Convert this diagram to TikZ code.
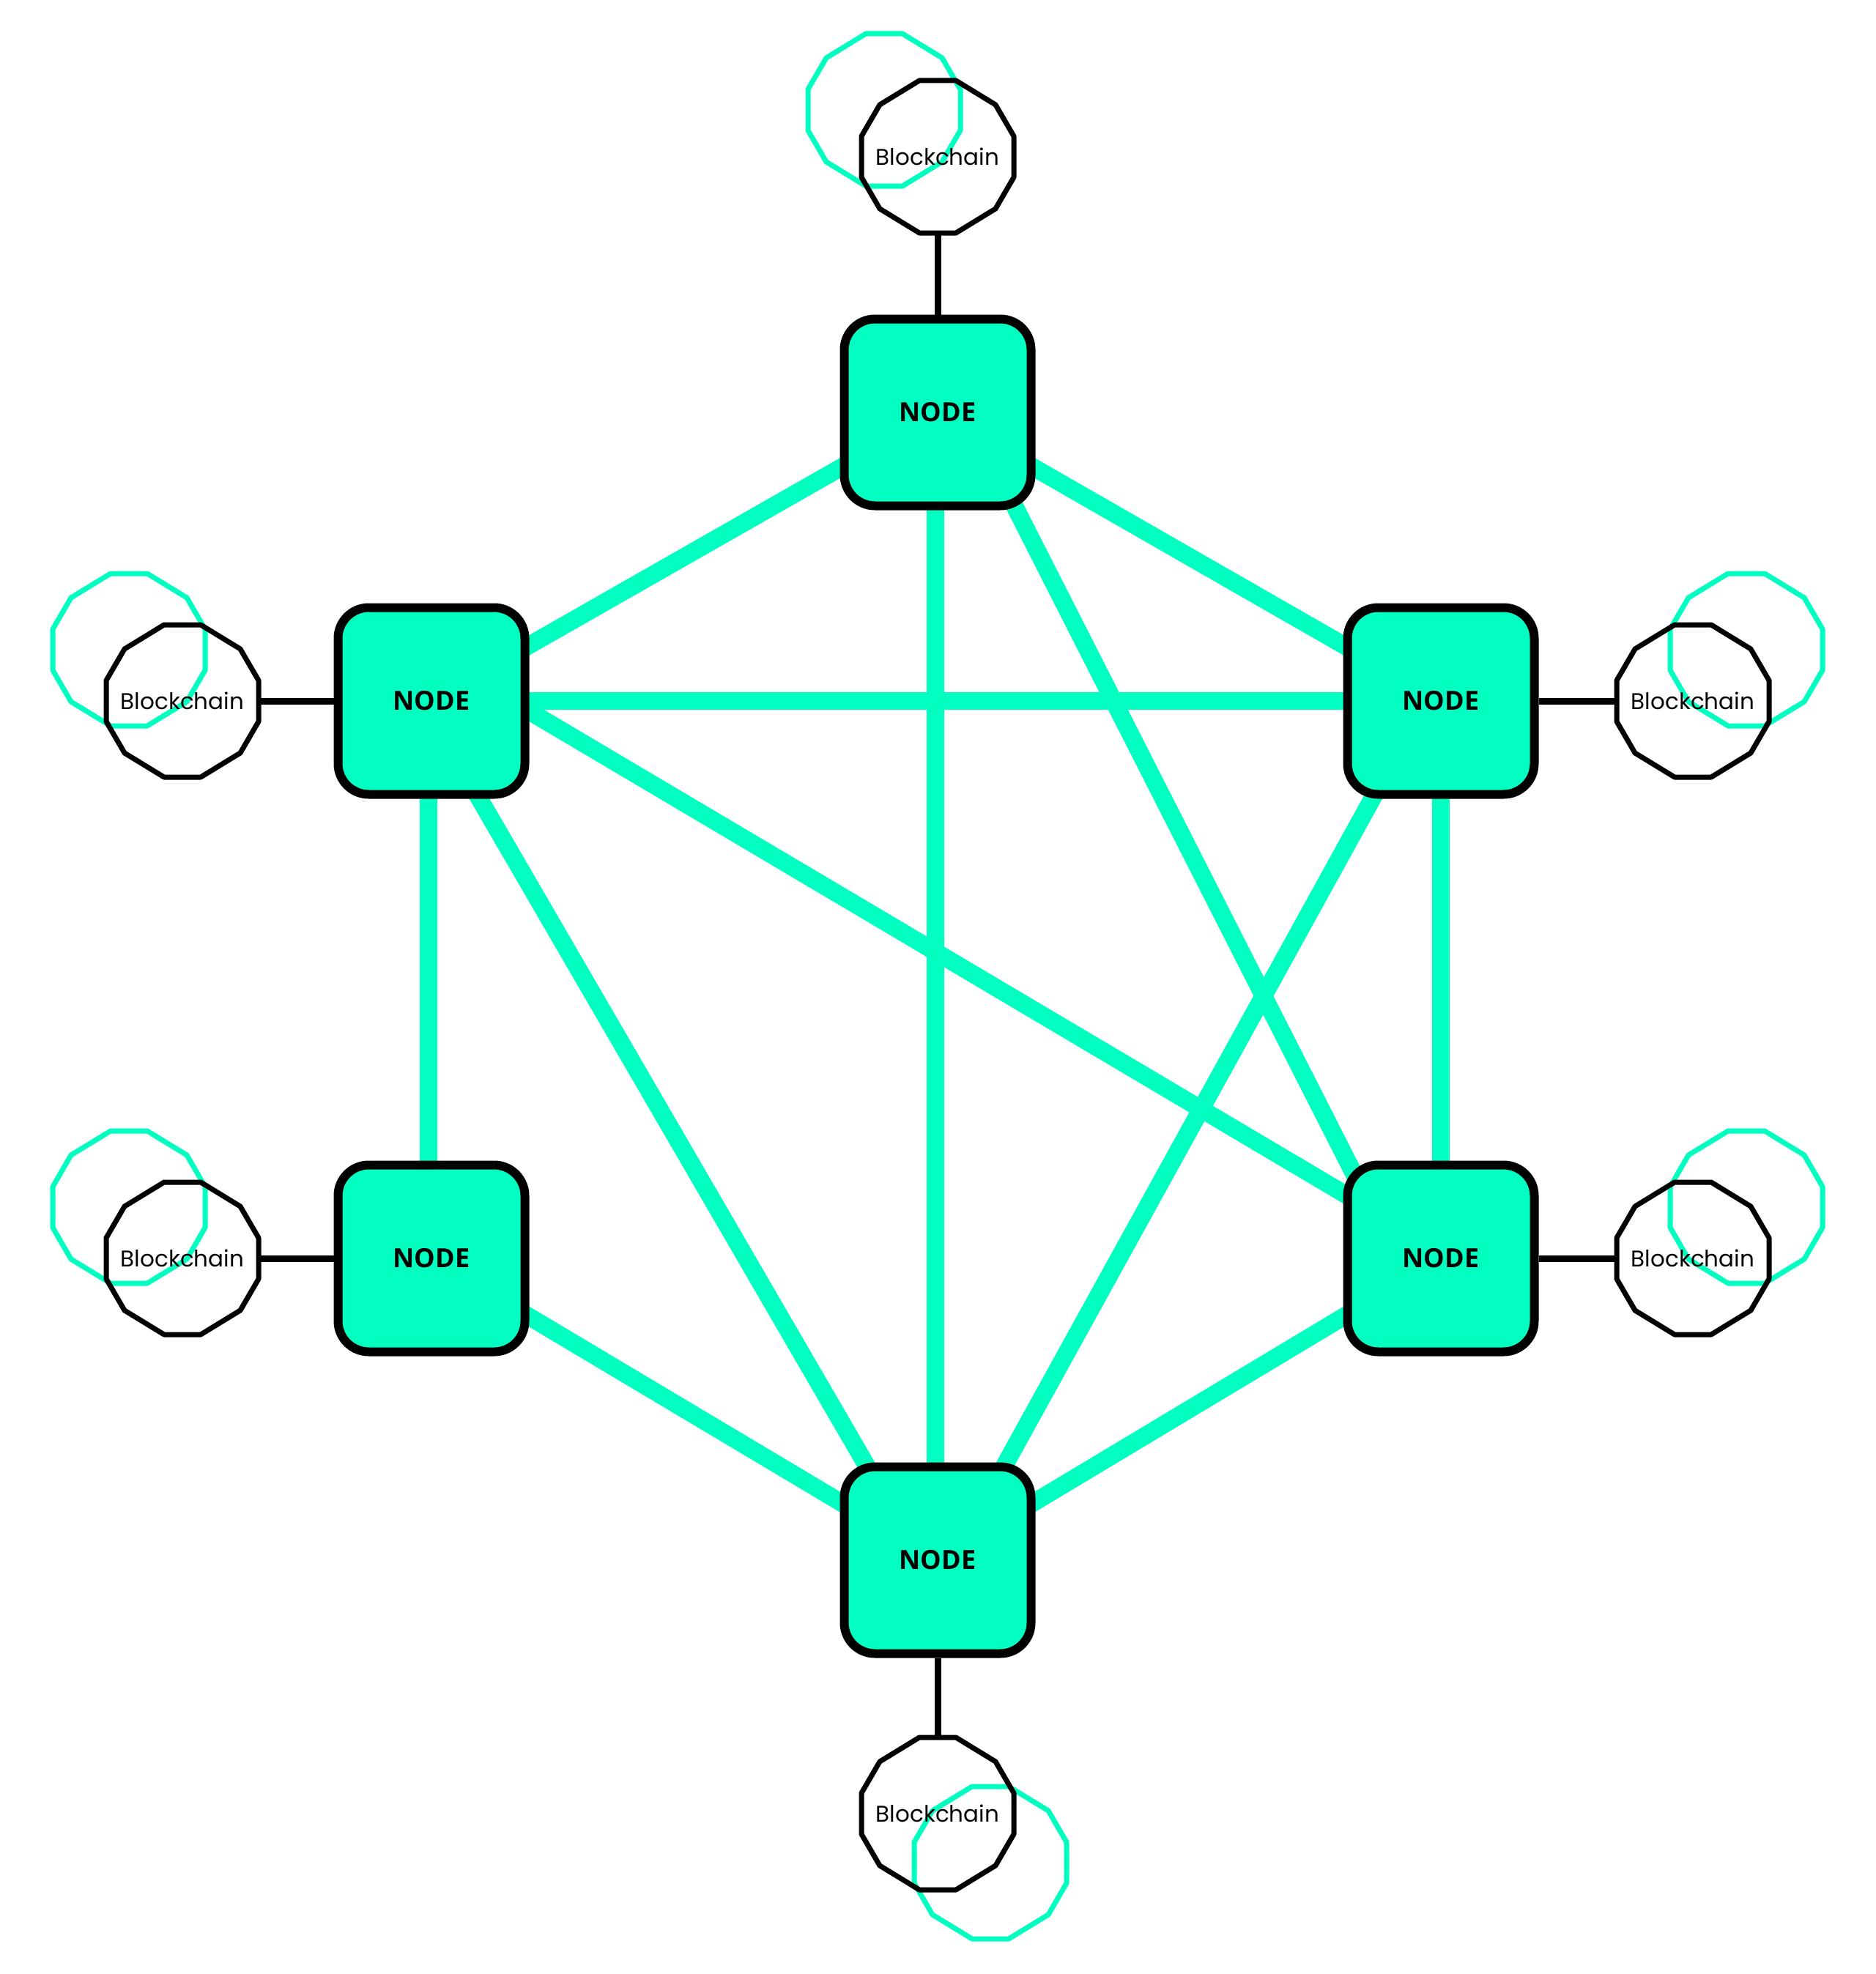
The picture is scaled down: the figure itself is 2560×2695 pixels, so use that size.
\documentclass[tikz,border=0pt]{standalone}
\usepackage{fontspec}
\newfontfamily\nodefont{Open Sans}
\newfontfamily\bcfont{Poppins}
\definecolor{mint}{HTML}{00FFC0}
\begin{document}
\begin{tikzpicture}[x=1pt,y=-1pt,
  nodebox/.style={draw=black,line width=12pt,fill=mint,minimum width=255pt,minimum height=255pt,rounded corners=42pt,font=\nodefont\bfseries\fontsize{36}{40}\selectfont,inner sep=0pt},
  link/.style={mint,line width=24pt},
  bline/.style={black,line width=9pt},
  bcnode/.style={minimum width=205pt,minimum height=205pt,inner sep=0pt,font=\bcfont\fontsize{31}{34}\selectfont}]
\useasboundingbox (0,0) rectangle (2560,2695);
\def\oct#1#2#3{\draw[#3,line width=7pt,line join=round] (#1-25,#2-104) -- (#1+25,#2-104) -- (#1+79,#2-71) -- (#1+104,#2-28) -- (#1+104,#2+28) -- (#1+79,#2+71) -- (#1+25,#2+104) -- (#1-25,#2+104) -- (#1-79,#2+71) -- (#1-104,#2+28) -- (#1-104,#2-28) -- (#1-79,#2-71) -- cycle;}
% blockchain shapes
\oct{1207}{150}{mint}\oct{1280}{214}{black}
\oct{176}{887}{mint}\oct{249}{957}{black}
\oct{2384}{887}{mint}\oct{2311}{957}{black}
\oct{176}{1648}{mint}\oct{249}{1718}{black}
\oct{2384}{1648}{mint}\oct{2311}{1718}{black}
\oct{1352}{2543}{mint}\oct{1280}{2476}{black}
\node[bcnode] (bt) at (1280,214) {Blockchain};
\node[bcnode] (blt) at (249,957) {Blockchain};
\node[bcnode] (brt) at (2311,957) {Blockchain};
\node[bcnode] (blb) at (249,1718) {Blockchain};
\node[bcnode] (brb) at (2311,1718) {Blockchain};
\node[bcnode] (bb) at (1280,2476) {Blockchain};
% node coordinates
\coordinate (T) at (1280,563);
\coordinate (LT) at (589,957);
\coordinate (RT) at (1967,957);
\coordinate (LB) at (589,1718);
\coordinate (RB) at (1967,1718);
\coordinate (B) at (1280,2130);
% links
\draw[link] (T) -- (LT);
\draw[link] (T) -- (RT);
\draw[link] ([xshift=-3pt]T) -- ([xshift=-3pt]B);
\draw[link] ([xshift=40pt]T) -- ([xshift=-60pt]RB);
\draw[link] (LT) -- (RT);
\draw[link] ([xshift=-4pt]LT) -- ([xshift=-4pt]LB);
\draw[link] ([xshift=-12pt]LT) -- ([xshift=-22pt]B);
\draw[link] ([yshift=65pt]LT) -- ([yshift=10pt]RB);
\draw[link] ([xshift=-20pt]RT) -- ([xshift=20pt]B);
\draw[link] (RT) -- (RB);
\draw[link] (LB) -- (B);
\draw[link] (RB) -- (B);
% nodes
\node[nodebox] (nT) at (T) {NODE};
\node[nodebox] (nLT) at (LT) {NODE};
\node[nodebox] (nRT) at (RT) {NODE};
\node[nodebox] (nLB) at (LB) {NODE};
\node[nodebox] (nRB) at (RB) {NODE};
\node[nodebox] (nB) at (B) {NODE};
% blockchain connectors
\draw[bline] (bt.south) -- (nT.north);
\draw[bline] (blt.east) -- (nLT.west);
\draw[bline] (brt.west) -- (nRT.east);
\draw[bline] (blb.east) -- (nLB.west);
\draw[bline] (brb.west) -- (nRB.east);
\draw[bline] (bb.north) -- (nB.south);
\end{tikzpicture}
\end{document}
